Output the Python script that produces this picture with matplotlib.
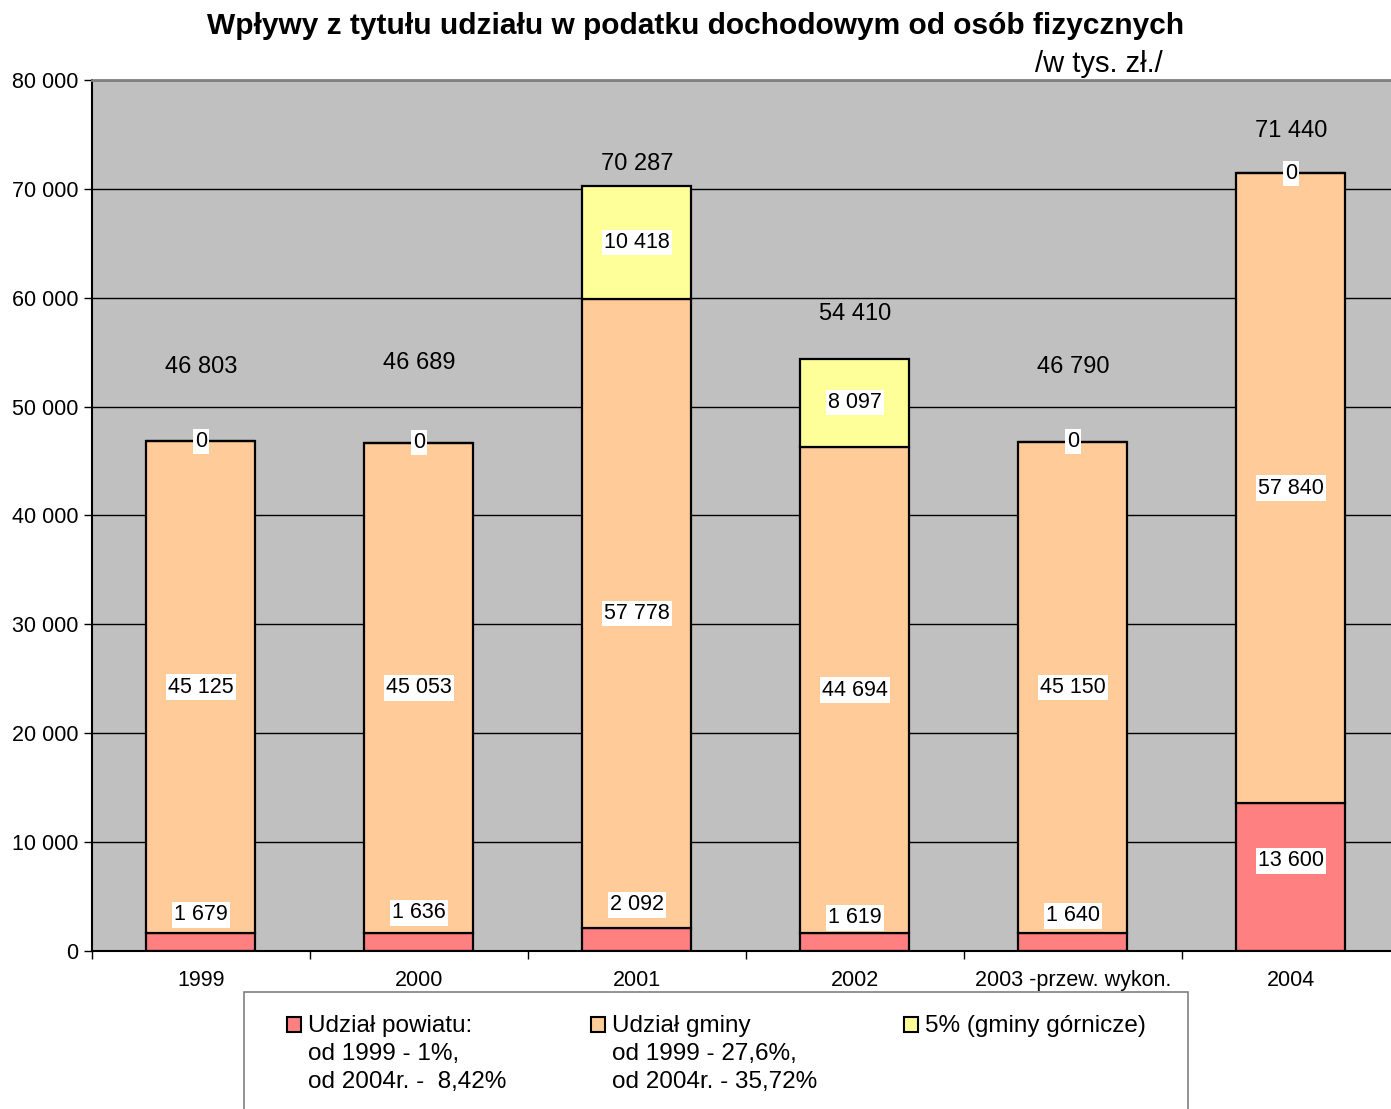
import matplotlib.pyplot as plt
from matplotlib.patches import Rectangle
import numpy as np

plt.rcParams['font.family'] = ['Liberation Sans', 'DejaVu Sans']

years = ["1999", "2000", "2001", "2002", "2003 -przew. wykon.", "2004"]
powiat = [1679, 1636, 2092, 1619, 1640, 13600]      # Udział powiatu
gmina = [45125, 45053, 57778, 44694, 45150, 57840]  # Udział gminy
gornicze = [0, 0, 10418, 8097, 0, 0]                # 5% (gminy górnicze)
totals = [46803, 46689, 70287, 54410, 46790, 71440]

# where the labels sit (data units)
total_label_y = [53640, 54000, 72290, 58510, 53640, 75320]
powiat_label_y = [3310, 3490, 4230, 3030, 3220, 8270]

def fmt(v):
    return "{:,}".format(v).replace(",", " ")

c_pow = "#FF8080"
c_gm = "#FFCC99"
c_gor = "#FFFF99"

fig = plt.figure(figsize=(13.91, 11.09), dpi=100)
# plot area runs a little past the right edge of the picture, as in the original
ax = fig.add_axes([0.0661, 0.1425, 0.9403, 0.7854])
ax.set_facecolor("#C0C0C0")

x = np.arange(len(years))
w = 0.5
ax.set_axisbelow(True)
ax.grid(axis="y", color="black", linewidth=1.0)
ax.bar(x, powiat, w, color=c_pow, edgecolor="black", linewidth=1.6)
ax.bar(x, gmina, w, bottom=powiat, color=c_gm, edgecolor="black", linewidth=1.6)
bot2 = np.array(powiat) + np.array(gmina)
ax.bar(x, gornicze, w, bottom=bot2, color=c_gor, edgecolor="black", linewidth=1.6)

box = dict(facecolor="white", edgecolor="none", pad=1.5)
for i in range(len(years)):
    ax.text(x[i], powiat_label_y[i], fmt(powiat[i]), ha="center", va="center",
            fontsize=15.5, bbox=box)
    ax.text(x[i], powiat[i] + gmina[i] / 2, fmt(gmina[i]), ha="center", va="center",
            fontsize=15.5, bbox=box)
    ax.text(x[i], bot2[i] + gornicze[i] / 2, fmt(gornicze[i]), ha="center", va="center",
            fontsize=15.5, bbox=box)
    ax.text(x[i], total_label_y[i], fmt(totals[i]), ha="center", va="center",
            fontsize=17)

ax.set_xlim(-0.5, len(years) - 0.5)
ax.set_ylim(0, 80000)
ax.set_yticks(np.arange(0, 80001, 10000))
ax.set_yticklabels([fmt(v) for v in range(0, 80001, 10000)], fontsize=15.5)
ax.set_xticks(x)
ax.set_xticklabels(years, fontsize=15.5)
ax.set_xticks(np.arange(-0.5, len(years), 1), minor=True)
ax.tick_params(axis="x", which="major", length=0, pad=14)
ax.tick_params(axis="x", which="minor", length=6, width=1, direction="out")
ax.tick_params(axis="y", length=6, width=1, direction="out", pad=4)

ax.spines["right"].set_visible(False)
ax.spines["top"].set_color("#808080")
ax.spines["top"].set_linewidth(2)
ax.spines["left"].set_linewidth(1.5)
ax.spines["bottom"].set_linewidth(1.5)

fig.text(0.5, 0.977, "Wpływy z tytułu udziału w podatku dochodowym od osób fizycznych",
         ha="center", va="center", fontsize=21.5, fontweight="bold")
fig.text(0.790, 0.942, "/w tys. zł./", ha="center", va="center", fontsize=21)

# legend box at the bottom
fig.add_artist(Rectangle((244 / 1391, -0.05), (1188 - 244) / 1391, 0.05 + (1109 - 992) / 1109,
                         transform=fig.transFigure, facecolor="white",
                         edgecolor="#808080", linewidth=1.2))
entries = [
    (287, c_pow, ["Udział powiatu:", "od 1999 - 1%,", "od 2004r. -  8,42%"]),
    (591, c_gm, ["Udział gminy", "od 1999 - 27,6%,", "od 2004r. - 35,72%"]),
    (904, c_gor, ["5% (gminy górnicze)"]),
]
for px, col, lines in entries:
    fig.add_artist(Rectangle((px / 1391, (1109 - 1032) / 1109), 14 / 1391, 15 / 1109,
                             transform=fig.transFigure, facecolor=col,
                             edgecolor="black", linewidth=1.5))
    for j, line in enumerate(lines):
        fig.text((px + 21) / 1391, (1109 - 1026 - 28 * j) / 1109, line,
                 ha="left", va="center", fontsize=17.5)

fig.savefig("out.png", dpi=100)
